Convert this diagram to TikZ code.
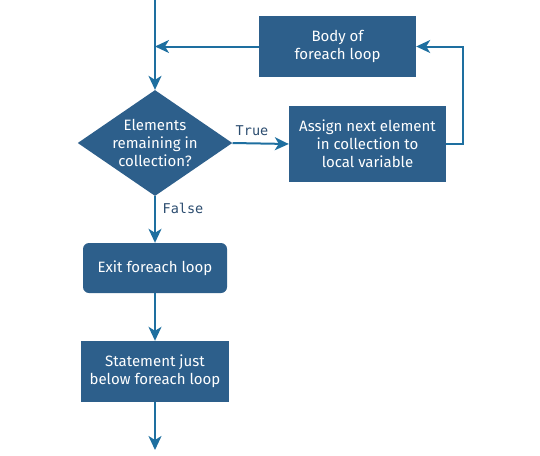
\documentclass[tikz,border=0pt]{standalone}
\usepackage{fontspec}
\setmainfont{Fira Sans}
\setmonofont{DejaVu Sans Mono}
\usetikzlibrary{arrows.meta}
\usetikzlibrary{shapes.geometric}
\definecolor{boxblue}{HTML}{2D5F8B}
\definecolor{lineblue}{HTML}{1E6FA0}
\definecolor{tagblue}{HTML}{2B4C6F}

\begin{document}
\begin{tikzpicture}[x=1pt,y=-1pt,
		box/.style={fill=boxblue, text=white, align=center, inner sep=0pt, font=\fontsize{15}{18}\selectfont},
		decision/.style={box, diamond, aspect=1.46, minimum width=152pt, minimum height=104pt},
		flow/.style={draw=lineblue, line width=2pt, -{Stealth[length=14pt,width=13pt,inset=4pt]}},
		tag/.style={text=tagblue, font=\ttfamily\fontsize{13.5}{15}\selectfont}]
		\useasboundingbox (0,0) rectangle (540,455);
		\coordinate (start) at (155,0);
		\coordinate (stop) at (155,450);
		\node[box, minimum width=157pt, minimum height=61pt] (body) at (337.5,46.5) {Body of\\foreach loop};
		\node[decision] (cond) at (155,143) {Elements\\remaining in\\collection?};
		\node[box, minimum width=157pt, minimum height=76pt] (assign) at (367.5,144) {Assign next element\\in collection to\\local variable};
		\node[box, rounded corners=6pt, minimum width=144pt, minimum height=50pt] (exit) at (155,268) {Exit foreach loop};
		\node[box, minimum width=148pt, minimum height=61pt] (stmt) at (155,371.5) {Statement just\\below foreach loop};
		\node[tag] (true) at (252,131) {True};
		\node[tag] (false) at (183,208) {False};
		
		\draw[flow] (start) -- (cond.north);
		\draw[flow] (body.west) -- (body.west -| start);
		\draw[flow] (cond.east) -- (assign.west);
		\draw[flow] (assign.east) -- ++(17,0) |- (body.east);
		\draw[flow] (cond.south) -- (exit.north);
		\draw[flow] (exit.south) -- (stmt.north);
		\draw[flow] (stmt.south) -- (stop);
		
		\end{tikzpicture}
\end{document}
